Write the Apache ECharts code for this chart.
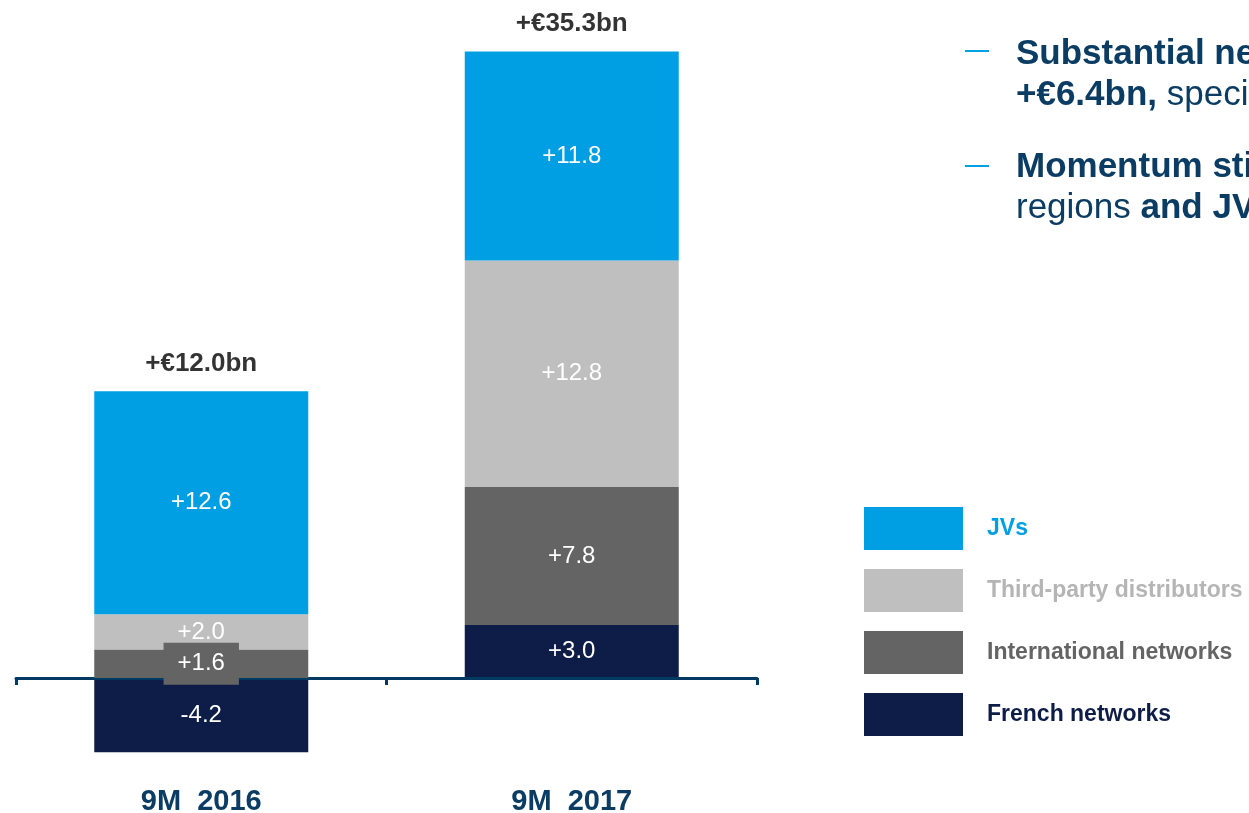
<!DOCTYPE html>
<html>
<head>
<meta charset="utf-8">
<script src="https://cdn.jsdelivr.net/npm/echarts@6/dist/echarts.min.js"></script>
<style>
  html, body { margin: 0; padding: 0; background: #fff; }
  #chart { width: 1249px; height: 813px; }
</style>
</head>
<body>
<div id="chart"></div>
<script>
var categories = ['9M  2016', '9M  2017'];
var french = [-4.2, 3.0];
var international = [1.6, 7.8];
var thirdParty = [2.0, 12.8];
var jvs = [12.6, 11.8];
var totals = [12.0, 35.3];

var FONT = '"Liberation Sans", Arial, sans-serif';
var DARK = '#0b3c63';

// top of the positive stack, where the total label sits
var stackTop = categories.map(function (c, i) {
    return [french[i], international[i], thirdParty[i], jvs[i]]
        .filter(function (v) { return v > 0; })
        .reduce(function (a, b) { return a + b; }, 0);
});

function signed(p) {
    var v = p.value;
    return (v >= 0 ? '+' : '') + v.toFixed(1);
}

var chart = echarts.init(document.getElementById('chart'));

function barSeries(name, data, color, z) {
    return {
        name: name,
        type: 'bar',
        stack: 'total',
        barWidth: 214,
        z: z || 2,
        itemStyle: { color: color },
        label: {
            show: true,
            position: 'inside',
            color: '#fff',
            fontSize: 24,
            fontFamily: FONT,
            formatter: signed
        },
        data: data
    };
}

var intl = barSeries('International networks', international, '#646464', 4);
intl.label.backgroundColor = '#646464';
intl.label.padding = [9, 14];

var option = {
    animation: false,
    grid: {
        left: 16,
        right: 492,
        top: 41,
        bottom: 46.5,
        outerBoundsMode: 'none'
    },
    legend: {
        orient: 'vertical',
        left: 859,
        top: 502,
        itemWidth: 99,
        itemHeight: 43,
        itemGap: 19,
        icon: 'rect',
        selectedMode: false,
        textStyle: {
            fontSize: 23,
            fontWeight: 'bold',
            fontFamily: FONT,
            padding: [3, 0, 0, 19]
        },
        data: [
            { name: 'JVs', textStyle: { color: '#009fe3' } },
            { name: 'Third-party distributors', textStyle: { color: '#b5b5b5' } },
            { name: 'International networks', textStyle: { color: '#646464' } },
            { name: 'French networks', textStyle: { color: '#0d1d48' } }
        ]
    },
    xAxis: [{
        // baseline at zero
        type: 'category',
        data: categories,
        z: 3,
        axisLine: {
            onZero: true,
            lineStyle: { color: '#003a63', width: 3 }
        },
        axisTick: {
            show: true,
            length: 7,
            lineStyle: { color: '#003a63', width: 3 }
        },
        axisLabel: { show: false }
    }, {
        // category names under the bars
        type: 'category',
        data: categories,
        position: 'bottom',
        axisLine: { show: false, onZero: false },
        axisTick: { show: false },
        axisLabel: {
            margin: 21,
            color: DARK,
            fontSize: 29,
            fontWeight: 'bold',
            fontFamily: FONT
        }
    }],
    yAxis: {
        type: 'value',
        show: false,
        min: -5,
        max: 36,
        splitLine: { show: false }
    },
    graphic: [
        { type: 'rect', left: 965, top: 50, shape: { width: 24, height: 2 }, style: { fill: '#00a0e2' } },
        { type: 'rect', left: 965, top: 165, shape: { width: 24, height: 2 }, style: { fill: '#00a0e2' } },
        {
            type: 'text', left: 1016, top: 37,
            style: { text: 'Substantial net inflows', fill: DARK, font: 'bold 35px ' + FONT }
        },
        {
            type: 'text', left: 1016, top: 78,
            style: {
                text: '{b|+€6.4bn,}{n| specifically}',
                rich: {
                    b: { fill: DARK, font: 'bold 35px ' + FONT },
                    n: { fill: DARK, font: '35px ' + FONT }
                }
            }
        },
        {
            type: 'text', left: 1016, top: 150,
            style: { text: 'Momentum still strong', fill: DARK, font: 'bold 35px ' + FONT }
        },
        {
            type: 'text', left: 1016, top: 191,
            style: {
                text: '{n|regions }{b|and JVs}',
                rich: {
                    b: { fill: DARK, font: 'bold 35px ' + FONT },
                    n: { fill: DARK, font: '35px ' + FONT }
                }
            }
        }
    ],
    series: [
        barSeries('French networks', french, '#0d1d48'),
        intl,
        barSeries('Third-party distributors', thirdParty, '#bfbfbf'),
        barSeries('JVs', jvs, '#009fe3'),
        {
            name: 'Total',
            type: 'scatter',
            symbolSize: 0,
            z: 5,
            label: {
                show: true,
                position: 'top',
                distance: 15,
                color: '#000',
                fontSize: 26,
                fontWeight: 'bold',
                fontFamily: FONT,
                formatter: function (p) {
                    return '+€' + totals[p.dataIndex].toFixed(1) + 'bn';
                }
            },
            data: stackTop
        }
    ]
};

chart.setOption(option);
window.onresize = function () {
    chart.resize();
};
</script>
</body>
</html>
